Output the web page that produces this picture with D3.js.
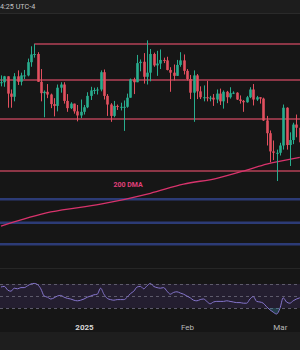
<!DOCTYPE html>
<html><head><meta charset="utf-8">
<script src="https://cdn.jsdelivr.net/npm/d3@7"></script>
<style>html,body{margin:0;padding:0;background:#161616;overflow:hidden}svg{display:block}</style>
</head><body>
<svg id="c" width="300" height="350"></svg>
<script>
// ---- data (BTC daily, thousands USD) ----
const startDate = "2024-12-07";
const opens  = [99.9,99.9,101.2,97.4,96.7,101.2,100.0,101.4,101.4,104.3,106.0,106.1,100.0,97.5,97.8,97.2,95.1,94.7,98.7,99.4,95.8,94.2,95.2,93.5,92.6,
  93.4,94.4,96.9,98.1,98.2,98.3,102.1,96.9,95.0,92.5,94.7,94.5,94.5,94.5,96.5,100.5,99.9,104.1,104.4,101.1,102.0,106.1,103.6,104.0,104.8,104.7,102.6,102.0,101.3,103.7,104.7,
  102.4,100.6,97.6,101.4,97.9,96.6,96.6,96.5,96.5,96.1,97.4,95.7,97.8,96.6,97.5,97.6,96.1,95.8,95.5,96.6,98.3,96.1,96.6,96.3,91.5,88.7,84.7,84.4,
  84.4,86.0,94.3,86.1,87.2,90.6,89.9];
const highs  = [101.4,101.3,101.2,98.3,101.9,102.5,102.0,102.6,105.1,107.8,108.3,106.5,102.8,98.1,99.5,97.4,96.4,99.4,99.9,99.9,97.3,95.5,95.2,94.9,96.1,
  94.9,97.7,98.9,98.7,98.8,102.5,102.7,97.3,95.3,95.8,95.0,95.4,95.9,97.4,100.7,100.9,105.9,104.9,106.3,109.1,107.2,106.4,106.8,107.1,105.3,105.5,103.2,103.8,104.8,106.5,106.0,
  102.8,101.5,102.5,101.7,99.0,99.2,100.2,96.9,97.3,98.3,98.5,98.1,98.0,98.8,97.9,97.7,97.0,96.0,96.9,98.8,99.5,96.9,96.6,96.5,92.5,89.3,87.1,85.1,
  86.6,95.0,94.4,88.9,91.0,92.8,91.2];
const lows   = [99.0,98.9,94.3,94.3,95.7,99.3,99.2,100.6,101.2,103.3,105.3,100.0,95.7,92.2,96.4,94.2,92.4,93.5,97.6,95.2,93.4,94.0,93.0,91.3,92.0,
  92.8,94.2,96.0,97.3,97.2,97.9,96.1,92.5,91.2,92.2,93.8,93.7,89.2,94.3,96.5,97.3,99.9,102.3,99.6,99.4,100.1,103.3,101.3,102.8,104.1,102.5,97.8,100.3,101.3,103.3,101.6,
  100.3,96.2,91.2,96.2,96.2,95.7,95.7,95.7,94.7,95.3,94.9,94.1,95.3,96.3,97.3,96.0,95.2,93.4,95.4,96.4,94.8,95.8,95.2,91.4,86.0,82.3,82.8,78.2,
  83.8,85.1,85.1,81.5,86.3,87.8,84.7];
const closes = [99.9,101.2,97.4,96.7,101.2,100.0,101.4,101.4,104.3,106.0,106.1,100.0,97.5,97.8,97.2,95.1,94.7,98.7,99.4,95.8,94.2,95.2,93.5,92.6,93.4,
  94.4,96.9,98.1,98.2,98.3,102.1,96.9,95.0,92.5,94.7,94.5,94.5,94.5,96.5,100.5,99.9,104.1,104.4,101.1,102.0,106.1,103.6,104.0,104.8,104.7,102.6,102.0,101.3,103.7,104.7,102.4,
  100.6,97.6,101.4,97.9,96.6,96.6,96.5,96.5,96.1,97.4,95.7,97.8,96.6,97.5,97.6,96.1,95.8,95.5,96.6,98.3,96.1,96.6,96.3,91.5,88.7,84.7,84.4,84.4,
  86.0,94.3,86.1,87.2,90.6,89.9,86.7];
const rsi = [65,66,60,58,63,62,64,64,67,70,71,69,62,50,48,45,47,50,51,48,46,45,43,42,43,45,48,50,52,53,63,53,46,44,43,44,44,44,48,54,58,65,66,62,67,71,66,64,63,64,58,53,56,57,55,53,50,47,43,42,44,45,41,37,40,41,41,41,42,41,40,39,39,38,38,45,49,41,40,38,32,27,23,20,29,47,40,38,42,45,47];
const dmaDates  = ["2024-12-07","2024-12-22","2025-01-06","2025-01-21","2025-01-31","2025-02-10","2025-02-19","2025-02-25","2025-03-07"];
const dmaValues = [68.3,71.4,73.1,75.5,77.5,78.8,80.6,81.9,83.4];
const redLevels  = [108.3,100.4,91.8,80.4];
const redStarts  = ["2024-12-17",null,null,null];
const blueLevels = [74.2,69.0,64.3];
const rsiBands = [70,50,30];
const tickDates  = ["2025-01-01","2025-02-01","2025-03-01"];
const tickLabels = ["2025","Feb","Mar"];
const headerText = "4:25 UTC-4";
const dmaLabel = "200 DMA";

// ---- build ----
const W=300,H=350;
const svg=d3.select("#c");
const parse=d3.utcParse("%Y-%m-%d");
const d0=parse(startDate);
const candles=closes.map((c,i)=>({date:d3.utcDay.offset(d0,i),o:opens[i],h:highs[i],l:lows[i],c:c}));
const x=d3.scaleUtc().domain([d0,d3.utcDay.offset(d0,90)]).range([1,1+90*3.32]);
const y=d3.scaleLinear().domain([78.2,108.3]).range([181,44]);
const yr=d3.scaleLinear().domain([30,70]).range([308,284]);

// backgrounds
svg.append("rect").attr("width",W).attr("height",H).attr("fill","#161616");
svg.append("rect").attr("width",W).attr("height",13).attr("fill","#1d1d1d");
svg.append("line").attr("x1",0).attr("x2",W).attr("y1",13.5).attr("y2",13.5).attr("stroke","#2a2a2a");
svg.append("line").attr("x1",0).attr("x2",W).attr("y1",268.5).attr("y2",268.5).attr("stroke","#262626");
svg.append("rect").attr("y",332).attr("width",W).attr("height",18).attr("fill","#1e1e1e");
svg.append("text").attr("x",0).attr("y",8.5).attr("fill","#c4c4c4").attr("font-family","Roboto, sans-serif").attr("font-size",7.2).text(headerText);

const main=svg.append("g").attr("clip-path","url(#mclip)");
svg.append("clipPath").attr("id","mclip").append("rect").attr("y",14).attr("width",W).attr("height",254);

// levels
main.selectAll(".red").data(redLevels).join("line")
  .attr("x1",(d,i)=>redStarts[i]?x(parse(redStarts[i])):0).attr("x2",W)
  .attr("y1",d=>y(d)).attr("y2",d=>y(d)).attr("stroke","#8c3646").attr("stroke-width",2);
main.selectAll(".blue").data(blueLevels).join("line")
  .attr("x1",0).attr("x2",W).attr("y1",d=>y(d)).attr("y2",d=>y(d)).attr("stroke","#2c3b76").attr("stroke-width",2.5);

// 200 DMA
const dma=dmaDates.map((d,i)=>({date:parse(d),v:dmaValues[i]}));
main.append("path").datum(dma).attr("fill","none").attr("stroke","#d8336c").attr("stroke-width",1.3)
  .attr("d",d3.line().x(d=>x(d.date)).y(d=>y(d.v)).curve(d3.curveMonotoneX));
main.append("text").attr("x",128).attr("y",186.5).attr("text-anchor","middle").attr("fill","#e0407a")
  .attr("font-family","Roboto, sans-serif").attr("font-weight","bold").attr("font-size",7).text(dmaLabel);

// candles
const up="#28ad8e",dn="#e2505f";
const cg=main.selectAll(".cd").data(candles).join("g");
cg.append("line").attr("x1",d=>Math.round(x(d.date))+0.5).attr("x2",d=>Math.round(x(d.date))+0.5)
  .attr("y1",d=>y(d.h)).attr("y2",d=>y(d.l)).attr("stroke",d=>d.c>=d.o?up:dn).attr("stroke-width",1);
cg.append("rect").attr("x",d=>Math.round(x(d.date))-0.8).attr("width",2.6)
  .attr("y",d=>y(Math.max(d.o,d.c))).attr("height",d=>Math.max(1,Math.abs(y(d.o)-y(d.c))))
  .attr("fill",d=>d.c>=d.o?up:dn);

// RSI pane
svg.append("rect").attr("x",0).attr("width",W).attr("y",yr(70)).attr("height",yr(30)-yr(70)).attr("fill","#241e30");
svg.selectAll(".band").data(rsiBands).join("line").attr("x1",0).attr("x2",W)
  .attr("y1",d=>yr(d)+0.5).attr("y2",d=>yr(d)+0.5).attr("stroke","#5e5b6c").attr("stroke-width",1).attr("stroke-dasharray","3,3");
const rsiPts=rsi.map((v,i)=>({date:d3.utcDay.offset(d0,i),v}));
svg.append("clipPath").attr("id","low").append("rect").attr("x",0).attr("width",W).attr("y",yr(30)).attr("height",30);
svg.append("path").datum(rsiPts).attr("clip-path","url(#low)").attr("fill","rgba(60,140,170,0.35)")
  .attr("d",d3.area().x(d=>x(d.date)).y0(yr(30)).y1(d=>yr(d.v)).curve(d3.curveMonotoneX));
svg.append("path").datum(rsiPts).attr("fill","none").attr("stroke","#8575cc").attr("stroke-width",1)
  .attr("d",d3.line().x(d=>x(d.date)).y(d=>yr(d.v)).curve(d3.curveMonotoneX));

// time axis
const ax=svg.append("g").attr("transform","translate(0,318)")
  .call(d3.axisBottom(x).tickValues(tickDates.map(parse)).tickFormat((d,i)=>tickLabels[i]).tickSize(0).tickPadding(6));
ax.select(".domain").remove();
ax.selectAll("text").attr("fill",(d,i)=>i===0?"#d8d8d8":"#b8b8b8").attr("font-size",8)
  .attr("font-family","Roboto, sans-serif").attr("font-weight",(d,i)=>i===0?"bold":"normal");
</script>
</body></html>
